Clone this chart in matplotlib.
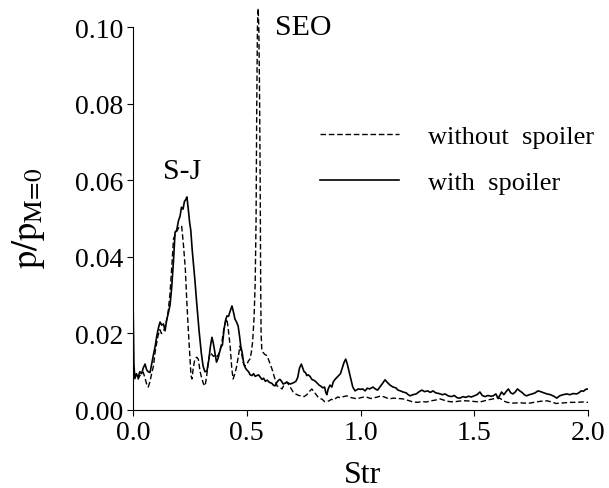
import matplotlib
matplotlib.use("Agg")
import matplotlib.pyplot as plt

# ---- data ----
str_with = [0.000, 0.004, 0.008, 0.015, 0.022, 0.030, 0.038, 0.045, 0.053, 0.060, 0.067, 0.075, 0.082, 0.090, 0.097,
            0.105, 0.112, 0.119, 0.126, 0.134, 0.141, 0.148, 0.156, 0.163, 0.170, 0.178, 0.185, 0.192, 0.200, 0.207,
            0.213, 0.220, 0.226, 0.232, 0.237, 0.243, 0.249, 0.254, 0.260, 0.266, 0.272, 0.280, 0.290, 0.300, 0.308,
            0.316, 0.325, 0.333, 0.340, 0.347, 0.353, 0.360, 0.367, 0.374, 0.380, 0.387, 0.393, 0.400, 0.407, 0.413,
            0.420, 0.428, 0.435, 0.442, 0.448, 0.455, 0.462, 0.468, 0.474, 0.480, 0.487, 0.494, 0.500, 0.508, 0.515,
            0.523, 0.530, 0.537, 0.545, 0.552, 0.560, 0.567, 0.574, 0.582, 0.590, 0.600, 0.610, 0.617, 0.624, 0.632,
            0.640, 0.646, 0.653, 0.660, 0.668, 0.676, 0.684, 0.692, 0.700, 0.708, 0.716, 0.724, 0.732, 0.740, 0.746,
            0.752, 0.758, 0.764, 0.770, 0.778, 0.786, 0.794, 0.802, 0.810, 0.818, 0.826, 0.834, 0.842, 0.848, 0.852,
            0.858, 0.866, 0.874, 0.880, 0.888, 0.896, 0.904, 0.912, 0.920, 0.928, 0.935, 0.942, 0.950, 0.958, 0.966,
            0.976, 0.990, 1.000, 1.010, 1.020, 1.030, 1.040, 1.055, 1.065, 1.075, 1.085, 1.095, 1.108, 1.118, 1.130,
            1.143, 1.155, 1.165, 1.175, 1.187, 1.200, 1.210, 1.218, 1.230, 1.245, 1.258, 1.270, 1.282, 1.295, 1.307,
            1.319, 1.330, 1.345, 1.360, 1.372, 1.385, 1.400, 1.412, 1.425, 1.437, 1.450, 1.462, 1.475, 1.487, 1.500,
            1.512, 1.525, 1.535, 1.548, 1.560, 1.572, 1.583, 1.595, 1.605, 1.612, 1.620, 1.630, 1.640, 1.650, 1.660,
            1.670, 1.680, 1.690, 1.700, 1.710, 1.720, 1.730, 1.742, 1.755, 1.768, 1.780, 1.792, 1.805, 1.820, 1.835,
            1.850, 1.863, 1.875, 1.890, 1.907, 1.920, 1.935, 1.950, 1.960, 1.970, 1.980, 1.990, 2.000]
p_with = [0.0295, 0.0120, 0.0082, 0.0095, 0.0085, 0.0100, 0.0095, 0.0110, 0.0120, 0.0105, 0.0100, 0.0098, 0.0120, 0.0145, 0.0165,
          0.0195, 0.0215, 0.0230, 0.0222, 0.0225, 0.0207, 0.0235, 0.0255, 0.0275, 0.0320, 0.0390, 0.0465, 0.0470, 0.0495, 0.0507,
          0.0530, 0.0525, 0.0545, 0.0550, 0.0557, 0.0525, 0.0490, 0.0470, 0.0420, 0.0380, 0.0340, 0.0280, 0.0210, 0.0150, 0.0115,
          0.0100, 0.0102, 0.0130, 0.0165, 0.0190, 0.0175, 0.0150, 0.0125, 0.0135, 0.0150, 0.0165, 0.0170, 0.0210, 0.0235, 0.0246,
          0.0245, 0.0260, 0.0272, 0.0255, 0.0238, 0.0230, 0.0220, 0.0195, 0.0165, 0.0150, 0.0120, 0.0110, 0.0105, 0.0100, 0.0092,
          0.0090, 0.0095, 0.0088, 0.0090, 0.0092, 0.0085, 0.0080, 0.0083, 0.0075, 0.0078, 0.0072, 0.0070, 0.0065, 0.0063, 0.0072,
          0.0078, 0.0080, 0.0075, 0.0068, 0.0070, 0.0073, 0.0070, 0.0068, 0.0070, 0.0072, 0.0075, 0.0085, 0.0110, 0.0120, 0.0110,
          0.0100, 0.0098, 0.0090, 0.0092, 0.0088, 0.0080, 0.0078, 0.0075, 0.0070, 0.0065, 0.0062, 0.0058, 0.0060, 0.0045, 0.0040,
          0.0055, 0.0065, 0.0060, 0.0073, 0.0080, 0.0085, 0.0090, 0.0095, 0.0110, 0.0125, 0.0133, 0.0120, 0.0100, 0.0080, 0.0060,
          0.0050, 0.0055, 0.0054, 0.0055, 0.0050, 0.0057, 0.0055, 0.0060, 0.0055, 0.0052, 0.0060, 0.0068, 0.0079, 0.0072, 0.0065,
          0.0060, 0.0058, 0.0052, 0.0050, 0.0047, 0.0045, 0.0040, 0.0037, 0.0040, 0.0042, 0.0048, 0.0052, 0.0048, 0.0050, 0.0046,
          0.0050, 0.0045, 0.0043, 0.0040, 0.0042, 0.0037, 0.0035, 0.0038, 0.0032, 0.0031, 0.0035, 0.0033, 0.0036, 0.0034, 0.0037,
          0.0040, 0.0047, 0.0038, 0.0035, 0.0038, 0.0036, 0.0037, 0.0042, 0.0030, 0.0038, 0.0047, 0.0040, 0.0048, 0.0055, 0.0045,
          0.0042, 0.0047, 0.0055, 0.0050, 0.0046, 0.0040, 0.0037, 0.0040, 0.0042, 0.0045, 0.0050, 0.0048, 0.0045, 0.0042, 0.0040,
          0.0036, 0.0031, 0.0037, 0.0040, 0.0042, 0.0040, 0.0043, 0.0042, 0.0045, 0.0050, 0.0049, 0.0054, 0.0055]

str_without = [0.000, 0.008, 0.015, 0.023, 0.030, 0.038, 0.045, 0.052, 0.060, 0.067, 0.075, 0.082, 0.090, 0.097, 0.104,
               0.110, 0.118, 0.125, 0.133, 0.140, 0.148, 0.155, 0.162, 0.170, 0.178, 0.186, 0.195, 0.204, 0.214, 0.222,
               0.230, 0.236, 0.243, 0.250, 0.255, 0.259, 0.265, 0.272, 0.280, 0.287, 0.295, 0.303, 0.310, 0.317, 0.324,
               0.332, 0.339, 0.347, 0.354, 0.362, 0.370, 0.380, 0.390, 0.400, 0.407, 0.413, 0.420, 0.427, 0.434, 0.440,
               0.448, 0.456, 0.463, 0.470, 0.477, 0.484, 0.492, 0.500, 0.507, 0.514, 0.520, 0.526, 0.532, 0.537, 0.541,
               0.544, 0.547, 0.550, 0.553, 0.556, 0.559, 0.561, 0.563, 0.566, 0.572, 0.580, 0.589, 0.600, 0.611, 0.622,
               0.633, 0.644, 0.655, 0.666, 0.676, 0.686, 0.696, 0.704, 0.715, 0.728, 0.740, 0.752, 0.764, 0.778, 0.786,
               0.795, 0.805, 0.813, 0.822, 0.832, 0.842, 0.852, 0.862, 0.872, 0.880, 0.890, 0.900, 0.912, 0.925, 0.940,
               0.955, 0.970, 0.985, 1.000, 1.015, 1.030, 1.045, 1.060, 1.075, 1.090, 1.105, 1.126, 1.145, 1.165, 1.187,
               1.210, 1.231, 1.250, 1.270, 1.290, 1.310, 1.330, 1.350, 1.370, 1.390, 1.410, 1.430, 1.450, 1.466, 1.485,
               1.505, 1.525, 1.545, 1.565, 1.583, 1.600, 1.615, 1.627, 1.645, 1.670, 1.700, 1.720, 1.745, 1.770, 1.795,
               1.820, 1.840, 1.860, 1.877, 1.900, 1.925, 1.950, 1.975, 2.000]
p_without = [0.0100, 0.0090, 0.0085, 0.0081, 0.0090, 0.0095, 0.0099, 0.0085, 0.0068, 0.0060, 0.0075, 0.0095, 0.0115, 0.0150, 0.0175,
             0.0194, 0.0210, 0.0200, 0.0204, 0.0215, 0.0235, 0.0260, 0.0300, 0.0370, 0.0447, 0.0460, 0.0470, 0.0480, 0.0480, 0.0430,
             0.0369, 0.0290, 0.0210, 0.0140, 0.0090, 0.0081, 0.0110, 0.0133, 0.0138, 0.0133, 0.0100, 0.0081, 0.0068, 0.0063, 0.0090,
             0.0130, 0.0150, 0.0145, 0.0140, 0.0145, 0.0140, 0.0150, 0.0175, 0.0215, 0.0230, 0.0238, 0.0205, 0.0167, 0.0110, 0.0081,
             0.0095, 0.0115, 0.0140, 0.0167, 0.0150, 0.0125, 0.0115, 0.0118, 0.0128, 0.0133, 0.0150, 0.0180, 0.0240, 0.0330, 0.0500,
             0.0800, 0.1000, 0.1050, 0.1000, 0.0850, 0.0600, 0.0350, 0.0200, 0.0160, 0.0150, 0.0145, 0.0142, 0.0125, 0.0107, 0.0085,
             0.0063, 0.0060, 0.0055, 0.0068, 0.0073, 0.0065, 0.0055, 0.0047, 0.0042, 0.0038, 0.0037, 0.0035, 0.0040, 0.0050, 0.0055,
             0.0048, 0.0040, 0.0034, 0.0030, 0.0028, 0.0022, 0.0022, 0.0024, 0.0028, 0.0026, 0.0030, 0.0034, 0.0032, 0.0035, 0.0037,
             0.0033, 0.0031, 0.0029, 0.0032, 0.0034, 0.0033, 0.0030, 0.0032, 0.0034, 0.0037, 0.0034, 0.0029, 0.0031, 0.0030, 0.0029,
             0.0025, 0.0021, 0.0020, 0.0022, 0.0021, 0.0024, 0.0026, 0.0029, 0.0025, 0.0022, 0.0021, 0.0023, 0.0024, 0.0024, 0.0023,
             0.0022, 0.0021, 0.0024, 0.0027, 0.0029, 0.0032, 0.0030, 0.0024, 0.0020, 0.0018, 0.0019, 0.0018, 0.0018, 0.0021, 0.0023,
             0.0024, 0.0021, 0.0017, 0.0018, 0.0019, 0.0020, 0.0020, 0.0021, 0.0020]

x_ticks = [0.0, 0.5, 1.0, 1.5, 2.0]
x_tick_labels = ["0.0", "0.5", "1.0", "1.5", "2.0"]
y_ticks = [0.00, 0.02, 0.04, 0.06, 0.08, 0.10]
y_tick_labels = ["0.00", "0.02", "0.04", "0.06", "0.08", "0.10"]
series_labels = ["without  spoiler", "with  spoiler"]
annotations = [("S-J", 0.215, 0.0625), ("SEO", 0.747, 0.1001)]

# ---- figure ----
plt.rcParams["font.family"] = ["Liberation Serif", "DejaVu Serif"]
plt.rcParams["mathtext.fontset"] = "stix"

W, H = 609, 489
fig = plt.figure(figsize=(W / 100, H / 100), dpi=100)
left, right, bottom, top_px = 133, 588, 411, 5.5
ax = fig.add_axes([left / W, (H - bottom) / H, (right - left) / W, (bottom - top_px) / H])

ax.plot(str_without, p_without, color="black", lw=1.0, dashes=(4, 2), label=series_labels[0])
ax.plot(str_with, p_with, color="black", lw=1.2, label=series_labels[1])

ax.set_xlim(0, 2.0)
ax.set_ylim(0, 0.106)
ax.spines["top"].set_visible(False)
ax.spines["right"].set_visible(False)
ax.spines["left"].set_bounds(0, 0.10)
for s in ("left", "bottom"):
    ax.spines[s].set_linewidth(0.8)

ax.set_xticks(x_ticks)
ax.set_xticklabels(x_tick_labels)
ax.set_yticks(y_ticks)
ax.set_yticklabels(y_tick_labels)
ax.tick_params(direction="out", length=4, width=0.8, labelsize=20, pad=3)

ax.set_xlabel("Str", fontsize=23)
ax.xaxis.set_label_coords((362 - left) / (right - left), -(483 - bottom) / (bottom - top_px))
ax.xaxis.label.set_va("baseline")
ax.set_ylabel(r"$\mathrm{p/p_{M\!=\!0}}$", fontsize=26)
ax.yaxis.set_label_coords(-(left - 47) / (right - left), (bottom - 218) / (bottom - top_px))

for txt, xv, yv in annotations:
    ax.text(xv, yv, txt, fontsize=21.5, ha="center", va="center")

leg = ax.legend(frameon=False, fontsize=19, handlelength=3.0, handletextpad=1.1,
                labelspacing=0.85, borderpad=0, borderaxespad=0,
                loc="upper left", bbox_to_anchor=((320 - left) / (right - left), (bottom - 126) / (bottom - top_px)))

fig.savefig("out.png", dpi=100)
